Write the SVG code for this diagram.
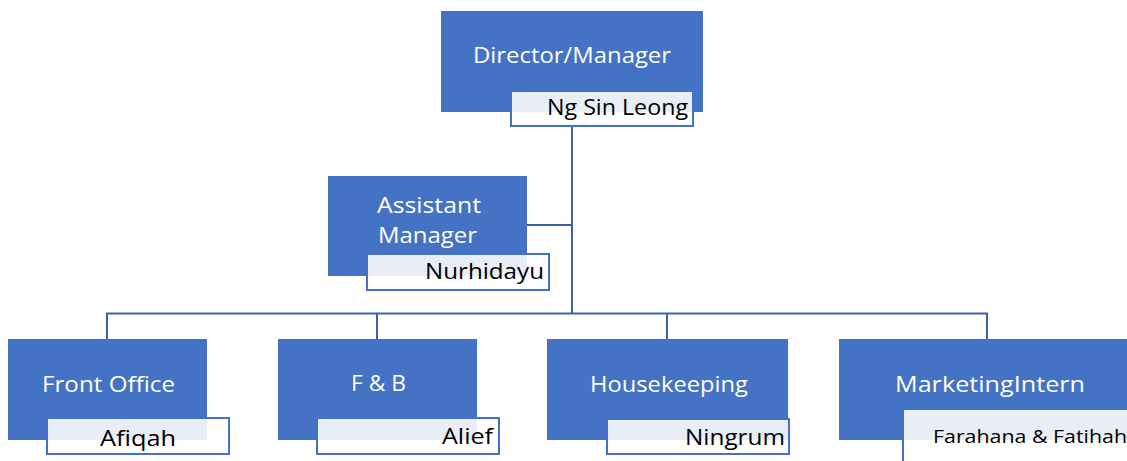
<svg xmlns="http://www.w3.org/2000/svg" width="1127" height="461" viewBox="0 0 1127 461">
<style>
.box{fill:#4472C4}
.nb{fill:#FFFFFF;stroke:#4472C4;stroke-width:2}
.lf{fill:#E9EDF6}
.t{font-family:"Open Sans","Liberation Sans",sans-serif;font-size:22px;fill:#FFFFFF}
.n{font-family:"Open Sans","Liberation Sans",sans-serif;font-size:21px;fill:#000000}
.c{fill:none;stroke:#3A62A8;stroke-width:2}
</style>
<rect width="1127" height="461" fill="#FFFFFF"/>
<g id="connectors">
<path class="c" d="M572 126V313.5"/>
<path class="c" d="M527 225H572"/>
<path class="c" d="M107 339V313.5H987V339"/>
<path class="c" d="M377 313.5V339"/>
<path class="c" d="M667 313.5V339"/>
</g>
<g id="director">
<rect class="box" x="441" y="11" width="262" height="101"/>
<text class="t" x="473" y="63" textLength="198" lengthAdjust="spacingAndGlyphs">Director/Manager</text>
<rect class="nb" x="511" y="91" width="182" height="35"/>
<rect class="lf" x="512" y="92" width="180" height="20"/>
<text class="n" x="547" y="115" textLength="141" lengthAdjust="spacingAndGlyphs">Ng Sin Leong</text>
</g>
<g id="assistant">
<rect class="box" x="328" y="176" width="199" height="100"/>
<text class="t" x="377" y="213" textLength="104" lengthAdjust="spacingAndGlyphs">Assistant</text>
<text class="t" x="378" y="243" textLength="99" lengthAdjust="spacingAndGlyphs">Manager</text>
<rect class="nb" x="367" y="254" width="182" height="36"/>
<rect class="lf" x="368" y="255" width="159" height="21"/>
<text class="n" x="425" y="279" textLength="119" lengthAdjust="spacingAndGlyphs">Nurhidayu</text>
</g>
<g id="front-office">
<rect class="box" x="8" y="339" width="199" height="101"/>
<text class="t" x="42" y="392" textLength="133" lengthAdjust="spacingAndGlyphs">Front Office</text>
<rect class="nb" x="47" y="418" width="182" height="36"/>
<rect class="lf" x="48" y="419" width="159" height="21"/>
<text class="n" x="100" y="446" textLength="76" lengthAdjust="spacingAndGlyphs">Afiqah</text>
</g>
<g id="fnb">
<rect class="box" x="278" y="339" width="199" height="101"/>
<text class="t" x="351" y="391" textLength="55" lengthAdjust="spacingAndGlyphs">F &amp; B</text>
<rect class="nb" x="317" y="418" width="182" height="36"/>
<rect class="lf" x="318" y="419" width="159" height="21"/>
<text class="n" x="442" y="444" textLength="51" lengthAdjust="spacingAndGlyphs">Alief</text>
</g>
<g id="housekeeping">
<rect class="box" x="547" y="339" width="241" height="101"/>
<text class="t" x="590" y="392" textLength="158" lengthAdjust="spacingAndGlyphs">Housekeeping</text>
<rect class="nb" x="607" y="419" width="182" height="35"/>
<rect class="lf" x="608" y="420" width="180" height="20"/>
<text class="n" x="685" y="445" textLength="100" lengthAdjust="spacingAndGlyphs">Ningrum</text>
</g>
<g id="marketing">
<rect class="box" x="839" y="339" width="300" height="101"/>
<text class="t" x="895" y="392" textLength="190" lengthAdjust="spacingAndGlyphs">MarketingIntern</text>
<rect class="nb" x="903" y="409" width="240" height="70"/>
<rect class="lf" x="904" y="410" width="235" height="30"/>
<text class="n" x="933" y="443" style="font-size:19px" textLength="194" lengthAdjust="spacingAndGlyphs">Farahana &amp; Fatihah</text>
</g>
</svg>
